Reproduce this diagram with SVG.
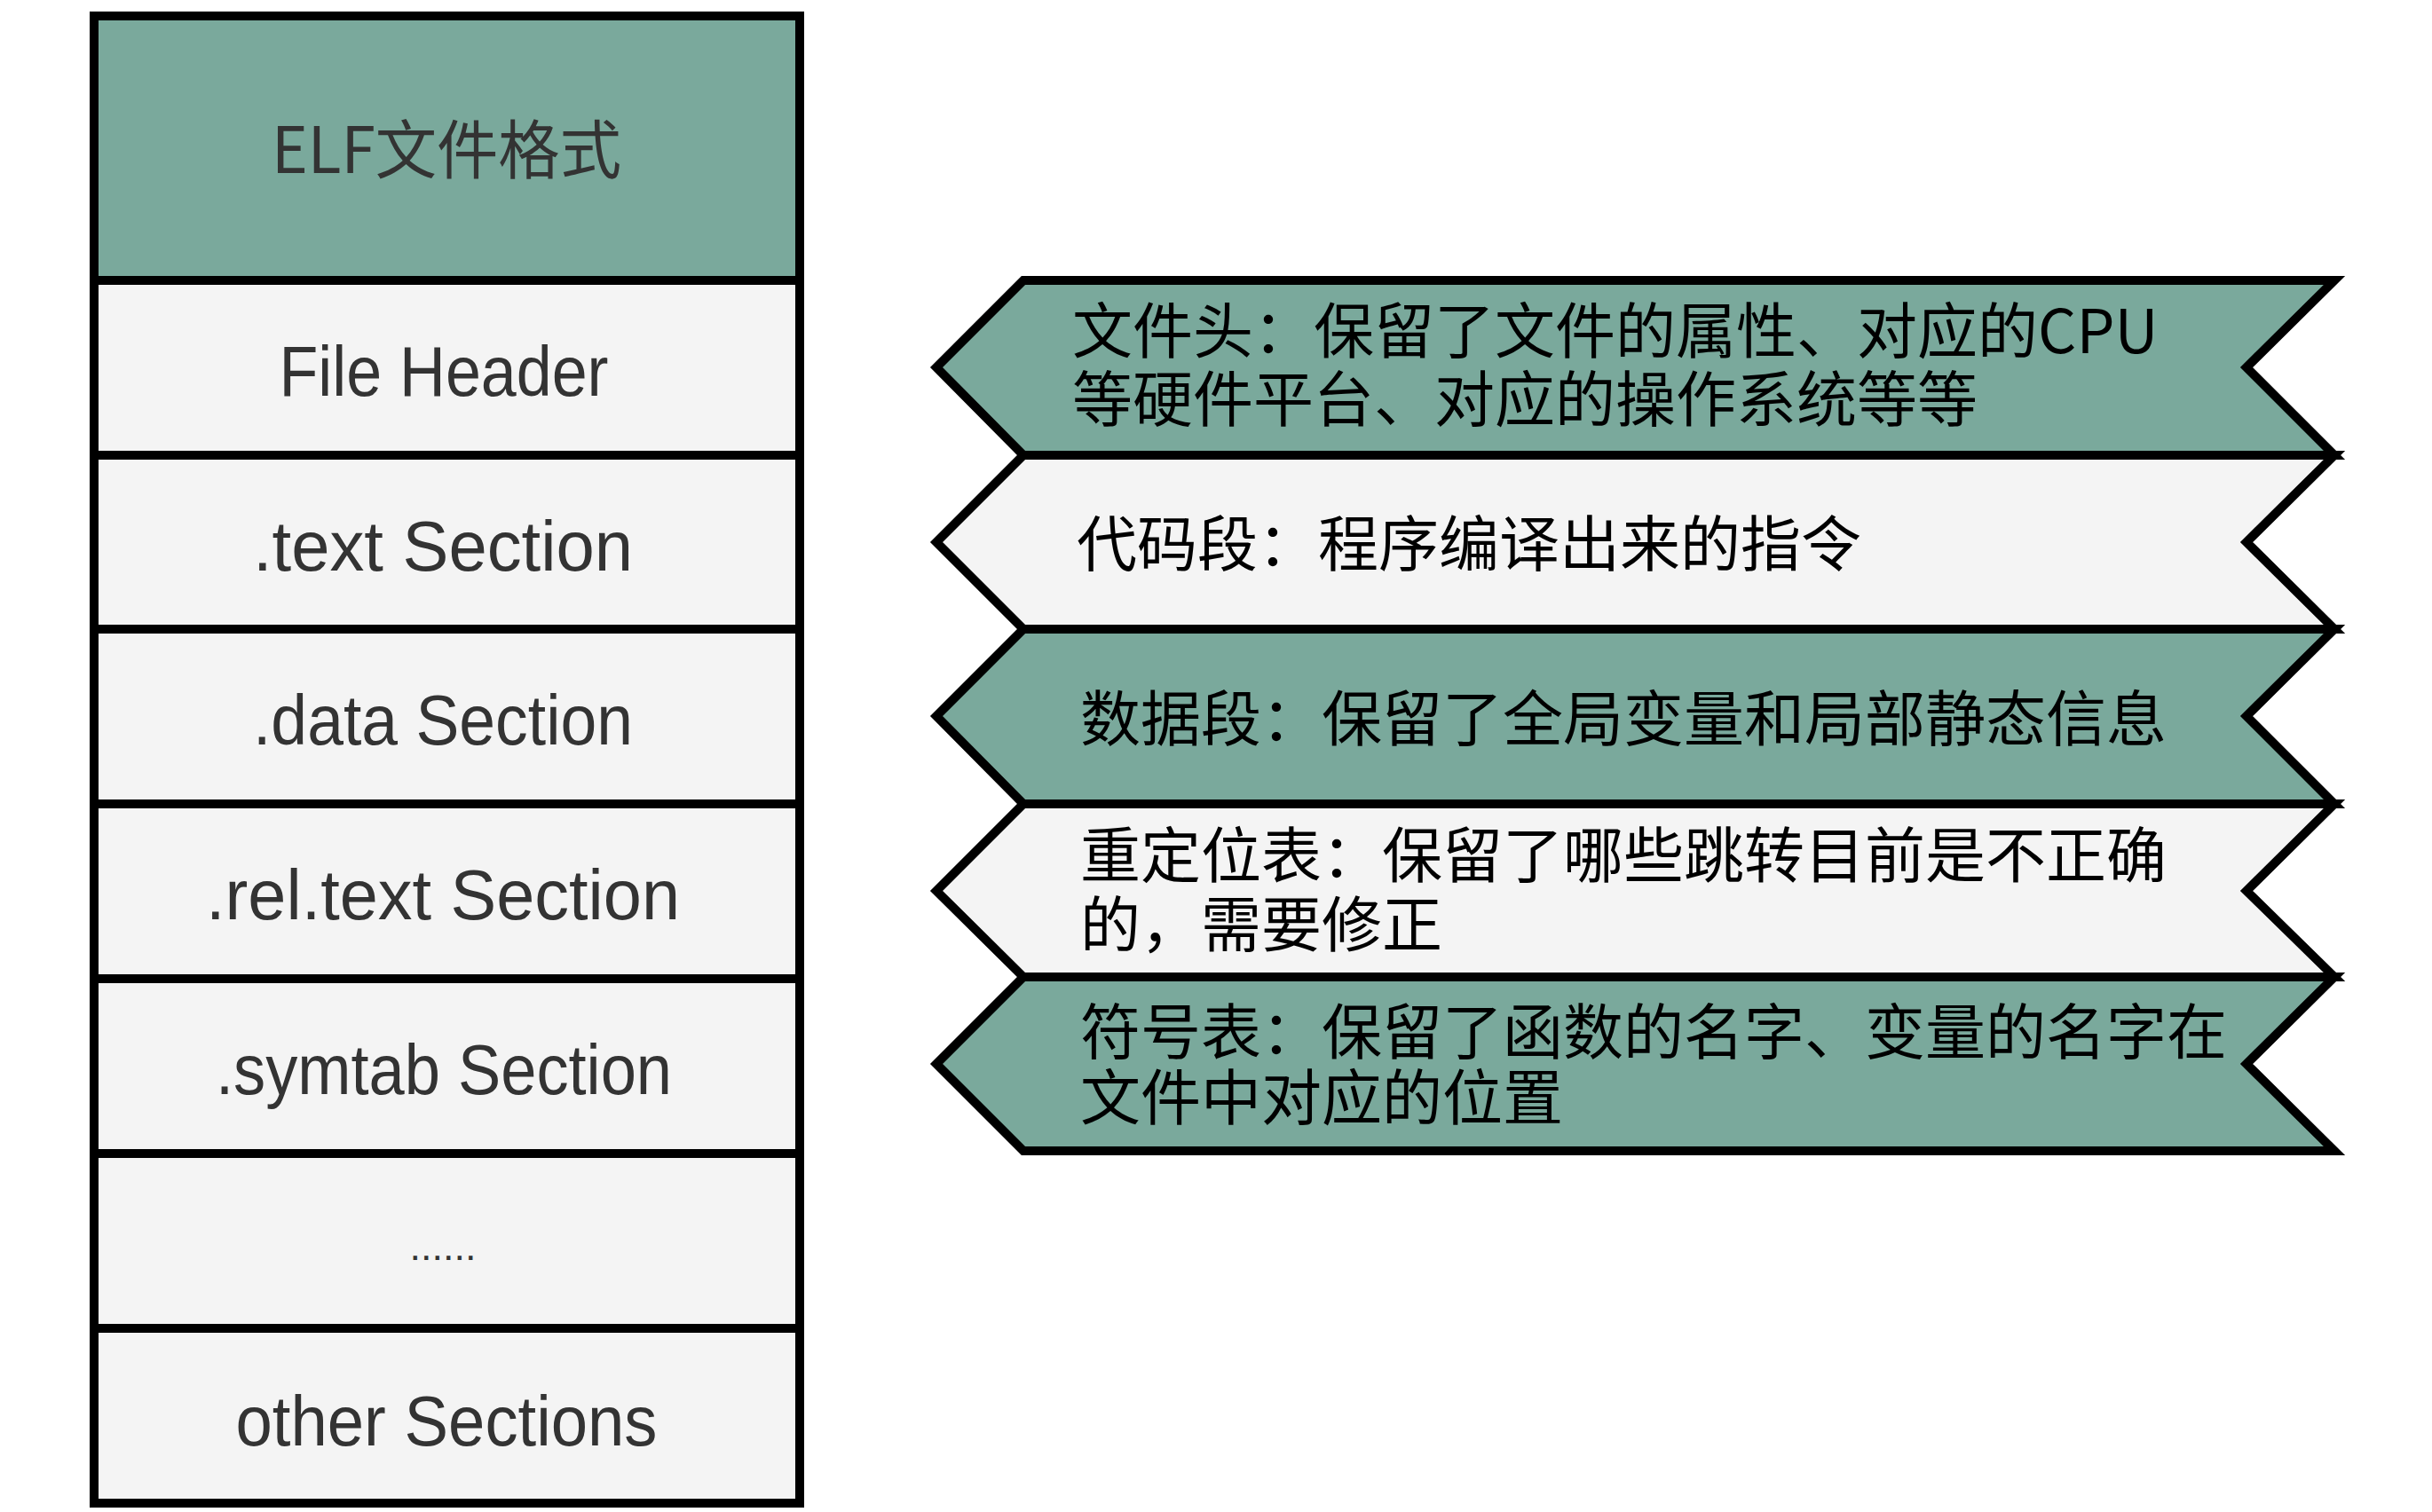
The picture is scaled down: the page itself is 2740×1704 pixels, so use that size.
<svg xmlns="http://www.w3.org/2000/svg" width="2740" height="1704" viewBox="0 0 2740 1704">
<style>
.teal{fill:#7AA99C;stroke:#000;stroke-width:10;stroke-linejoin:miter}
.light{fill:#F4F4F4;stroke:#000;stroke-width:10;stroke-linejoin:miter}
.lab{font-family:"Liberation Sans","Noto Sans CJK SC",sans-serif;font-size:80px;fill:#333333;text-anchor:middle}
.hdr{font-family:"Noto Sans CJK SC","Liberation Sans",sans-serif;font-size:72px;fill:#333333;text-anchor:middle}
.desc{font-family:"Noto Sans CJK SC","Noto Sans",sans-serif;font-size:68px;fill:#000000}
</style>
<rect width="2740" height="1704" fill="#FFFFFF"/>
<g id="left-column">
<g id="n-elf"><rect class="teal" x="106" y="18" width="795" height="298"/><text class="hdr" x="503" y="195" textLength="394" lengthAdjust="spacingAndGlyphs">ELF文件格式</text></g>
<g id="n-fileheader"><rect class="light" x="106" y="316" width="795" height="197"/><text class="lab" x="500" y="446" textLength="371" lengthAdjust="spacingAndGlyphs">File Header</text></g>
<g id="n-text"><rect class="light" x="106" y="513" width="795" height="196"/><text class="lab" x="499" y="643" textLength="428" lengthAdjust="spacingAndGlyphs">.text Section</text></g>
<g id="n-data"><rect class="light" x="106" y="709" width="795" height="197"/><text class="lab" x="499" y="839" textLength="428" lengthAdjust="spacingAndGlyphs">.data Section</text></g>
<g id="n-reltext"><rect class="light" x="106" y="906" width="795" height="197"/><text class="lab" x="499" y="1036" textLength="534" lengthAdjust="spacingAndGlyphs">.rel.text Section</text></g>
<g id="n-symtab"><rect class="light" x="106" y="1103" width="795" height="197"/><text class="lab" x="500" y="1233" textLength="514" lengthAdjust="spacingAndGlyphs">.symtab Section</text></g>
<g id="n-dots"><rect class="light" x="106" y="1300" width="795" height="197"/><text class="lab" x="499" y="1420" style="font-size:45px">......</text></g>
<g id="n-other"><rect class="light" x="106" y="1497" width="795" height="197"/><text class="lab" x="503" y="1629" textLength="475" lengthAdjust="spacingAndGlyphs">other Sections</text></g>
</g>
<g id="descriptions">
<g id="d-fileheader"><polygon class="teal" points="1153,316 2630,316 2531,414 2630,513 1153,513 1055,414"/>
<text class="desc" x="1208" y="398">文件头：保留了文件的属性、对应的CPU</text>
<text class="desc" x="1208" y="475">等硬件平台、对应的操作系统等等</text></g>
<g id="d-text"><polygon class="light" points="1153,513 2630,513 2531,611 2630,709 1153,709 1055,611"/>
<text class="desc" x="1213" y="638">代码段：程序编译出来的指令</text></g>
<g id="d-data"><polygon class="teal" points="1153,709 2630,709 2531,807 2630,906 1153,906 1055,807"/>
<text class="desc" x="1217" y="835">数据段：保留了全局变量和局部静态信息</text></g>
<g id="d-reltext"><polygon class="light" points="1153,906 2630,906 2531,1004 2630,1101 1153,1101 1055,1004"/>
<text class="desc" x="1217" y="989">重定位表：保留了哪些跳转目前是不正确</text>
<text class="desc" x="1217" y="1067">的，需要修正</text></g>
<g id="d-symtab"><polygon class="teal" points="1153,1101 2630,1101 2531,1199 2630,1297 1153,1297 1055,1199"/>
<text class="desc" x="1217" y="1188">符号表：保留了函数的名字、变量的名字在</text>
<text class="desc" x="1217" y="1262">文件中对应的位置</text></g>
</g>
<g id="connectors"></g>
</svg>
